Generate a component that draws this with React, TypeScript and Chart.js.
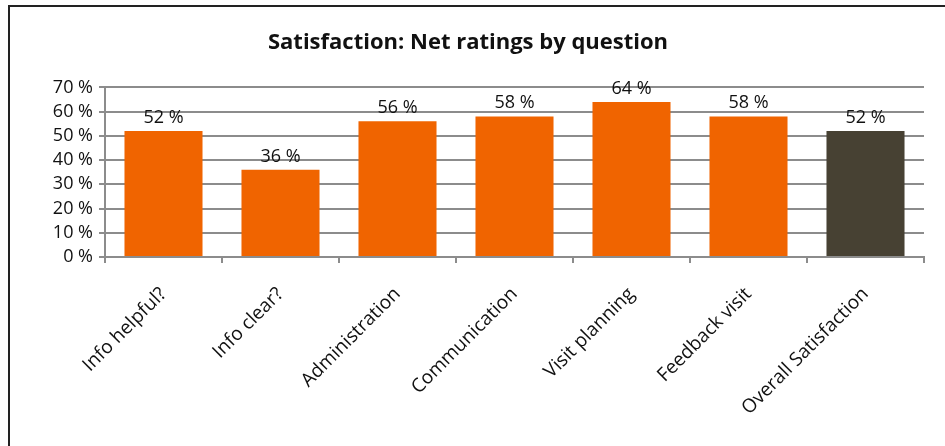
import React, { useEffect, useRef } from "react";
import { Chart, registerables } from "chart.js";

Chart.register(...registerables);

const categories = [
  "Info helpful?",
  "Info clear?",
  "Administration",
  "Communication",
  "Visit planning",
  "Feedback visit",
  "Overall Satisfaction",
];
const values = [52, 36, 56, 58, 64, 58, 52];
const barColors = ["#F06400", "#F06400", "#F06400", "#F06400", "#F06400", "#F06400", "#474133"];
const yTicks = [0, 10, 20, 30, 40, 50, 60, 70];
const titleText = "Satisfaction: Net ratings by question";

const FONT = "'Open Sans', sans-serif";

const labelPlugin = {
  id: "barLabels",
  afterDatasetsDraw(chart: any) {
    const ctx = chart.ctx;
    const meta = chart.getDatasetMeta(0);
    ctx.save();
    ctx.font = `18px ${FONT}`;
    ctx.fillStyle = "#111";
    ctx.textAlign = "center";
    ctx.textBaseline = "alphabetic";
    meta.data.forEach((bar: any, i: number) => {
      ctx.fillText(`${values[i]} %`, bar.x, bar.y - 8);
    });
    ctx.restore();
  },
};

export default function App() {
  const ref = useRef<HTMLCanvasElement>(null);
  useEffect(() => {
    if (!ref.current) return;
    const chart = new Chart(ref.current, {
      type: "bar",
      data: {
        labels: categories,
        datasets: [
          {
            data: values,
            backgroundColor: barColors,
            categoryPercentage: 0.667,
            barPercentage: 1,
          },
        ],
      },
      options: {
        animation: false,
        responsive: false,
        layout: { padding: { left: 0, right: 18, top: 0, bottom: 0 } },
        plugins: {
          legend: { display: false },
          tooltip: { enabled: false },
          title: {
            display: true,
            text: titleText,
            color: "#111",
            font: { family: FONT, size: 22, weight: "bold", lineHeight: 1.2 },
            padding: { top: 22, bottom: 31 },
          },
        },
        scales: {
          y: {
            min: 0,
            max: 70,
            afterBuildTicks(axis: any) {
              axis.ticks = yTicks.map((v) => ({ value: v }));
            },
            afterFit(axis: any) {
              axis.width = 93;
            },
            ticks: {
              color: "#111",
              font: { family: FONT, size: 18 },
              padding: 6,
              autoSkip: false,
              callback: (v: any) => `${v} %`,
            },
            grid: { color: "#8c8c8c", lineWidth: 2, tickLength: 6 },
            border: { color: "#8c8c8c", width: 2 },
          },
          x: {
            afterFit(axis: any) {
              axis.height = 183;
            },
            ticks: {
              color: "#111",
              font: { family: FONT, size: 19 },
              minRotation: 45,
              maxRotation: 45,
              autoSkip: false,
              padding: 20,
            },
            grid: { drawOnChartArea: false, color: "#8c8c8c", lineWidth: 2, tickLength: 6, offset: true },
            border: { color: "#8c8c8c", width: 2 },
          },
        },
      },
      plugins: [labelPlugin],
    });
    return () => chart.destroy();
  }, []);
  return (
    <div style={{ position: "fixed", left: 0, top: 0, width: 945, height: 446, background: "#fff" }}>
      <div
        style={{
          position: "absolute",
          left: 8,
          top: 5,
          width: 945,
          height: 446,
          borderLeft: "2px solid #222",
          borderTop: "2px solid #222",
        }}
      />
      <canvas ref={ref} width={930} height={432} style={{ position: "absolute", left: 12, top: 8 }} />
    </div>
  );
}
